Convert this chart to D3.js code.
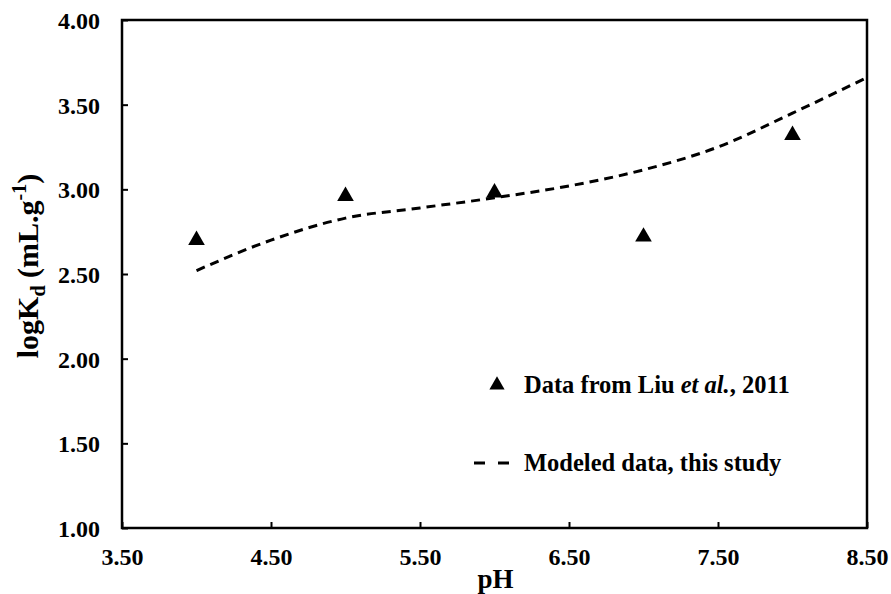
<!DOCTYPE html>
<html>
<head>
<meta charset="utf-8">
<script src="https://cdn.jsdelivr.net/npm/d3@7"></script>
<style>
  body { margin: 0; background: #fff; }
</style>
</head>
<body>
<div id="chart"></div>
<script>
// measured points (Liu et al., 2011)
var dataPH = [4, 5, 6, 7, 8];
var dataLogKd = [2.70, 2.96, 2.98, 2.72, 3.32];

// modeled curve
var modelPH = [4.0, 4.5, 5.0, 5.5, 6.0, 6.5, 7.0, 7.5, 8.0, 8.5];
var modelLogKd = [2.52, 2.70, 2.83, 2.89, 2.95, 3.02, 3.115, 3.25, 3.45, 3.66];

var xTicks = [3.5, 4.5, 5.5, 6.5, 7.5, 8.5];
var yTicks = [1.0, 1.5, 2.0, 2.5, 3.0, 3.5, 4.0];

var legendLabels = ["Data from Liu ", "et al.", ", 2011", "Modeled data, this study"];

var FONT = "'Liberation Serif', 'Times New Roman', serif";

var margin = {top: 20, right: 24, bottom: 66, left: 122},
    width = 891 - margin.left - margin.right,
    height = 594 - margin.top - margin.bottom;

var svg = d3.select("#chart").append("svg")
    .attr("width", 891)
    .attr("height", 594)
    .style("font-family", FONT)
    .append("g")
    .attr("transform", "translate(" + margin.left + "," + margin.top + ")");

var x = d3.scaleLinear().domain([3.5, 8.5]).range([0, width]);
var y = d3.scaleLinear().domain([1, 4]).range([height, 0]);

svg.append("defs").append("clipPath").attr("id", "clip")
    .append("rect").attr("width", width).attr("height", height);

// axes with inward ticks
var xAxis = d3.axisBottom(x).tickValues(xTicks).tickSizeInner(-6).tickSizeOuter(0)
    .tickFormat(d3.format(".2f"));
var yAxis = d3.axisLeft(y).tickValues(yTicks).tickSizeInner(-6).tickSizeOuter(0)
    .tickFormat(d3.format(".2f"));

var gx = svg.append("g").attr("transform", "translate(0," + height + ")").call(xAxis);
var gy = svg.append("g").call(yAxis);

[gx, gy].forEach(function(g) {
    g.attr("font-family", null).attr("font-size", null);
    g.select(".domain").remove();
    g.selectAll("line").attr("stroke", "#000").attr("stroke-width", 2);
    g.selectAll("text")
        .style("font-family", FONT)
        .style("font-size", "24px")
        .style("font-weight", "bold")
        .attr("fill", "#000");
});
gx.selectAll("text").attr("y", 20).attr("dy", "0.71em");
gy.selectAll("text").attr("x", -22).attr("dy", "0.35em").attr("text-anchor", "end");

// frame
svg.append("rect")
    .attr("width", width)
    .attr("height", height)
    .attr("fill", "none")
    .attr("stroke", "#000")
    .attr("stroke-width", 2.5);

// modeled line
var line = d3.line()
    .x(function(d, i) { return x(modelPH[i]); })
    .y(function(d) { return y(d); })
    .curve(d3.curveMonotoneX);

svg.append("path")
    .datum(modelLogKd)
    .attr("clip-path", "url(#clip)")
    .attr("d", line)
    .attr("fill", "none")
    .attr("stroke", "#000")
    .attr("stroke-width", 3)
    .attr("stroke-dasharray", "9,6");

// triangles
svg.selectAll(".pt")
    .data(dataLogKd)
    .enter().append("path")
    .attr("class", "pt")
    .attr("d", d3.symbol().type(d3.symbolTriangle).size(120))
    .attr("transform", function(d, i) { return "translate(" + x(dataPH[i]) + "," + y(d) + ")"; })
    .attr("fill", "#000");

// axis titles
svg.append("text")
    .attr("x", width / 2 + 1)
    .attr("y", height + 60)
    .attr("text-anchor", "middle")
    .style("font-size", "27px")
    .style("font-weight", "bold")
    .text("pH");

var yl = svg.append("text")
    .attr("transform", "translate(-84," + (height / 2 - 8) + ") rotate(-90)")
    .attr("text-anchor", "middle")
    .style("font-size", "30px")
    .style("font-weight", "bold");
yl.append("tspan").text("logK");
yl.append("tspan").attr("dy", 7).style("font-size", "20px").text("d");
yl.append("tspan").attr("dy", -7).text(" (mL.g");
yl.append("tspan").attr("dy", -12).style("font-size", "20px").text("-1");
yl.append("tspan").attr("dy", 12).text(")");

// legend
var lg = svg.append("g").attr("transform", "translate(" + (497 - margin.left) + "," + (385 - margin.top) + ")");
lg.append("path")
    .attr("d", d3.symbol().type(d3.symbolTriangle).size(100))
    .attr("fill", "#000");
var t1 = lg.append("text").attr("x", 27).attr("y", 8)
    .style("font-size", "24.5px").style("font-weight", "bold");
t1.append("tspan").text(legendLabels[0]);
t1.append("tspan").style("font-style", "italic").text(legendLabels[1]);
t1.append("tspan").text(legendLabels[2]);

lg.append("line")
    .attr("x1", -23).attr("x2", 14)
    .attr("y1", 78).attr("y2", 78)
    .attr("stroke", "#000")
    .attr("stroke-width", 3)
    .attr("stroke-dasharray", "11,13");
lg.append("text").attr("x", 27).attr("y", 86)
    .style("font-size", "24.5px").style("font-weight", "bold")
    .text(legendLabels[3]);
</script>
</body>
</html>
